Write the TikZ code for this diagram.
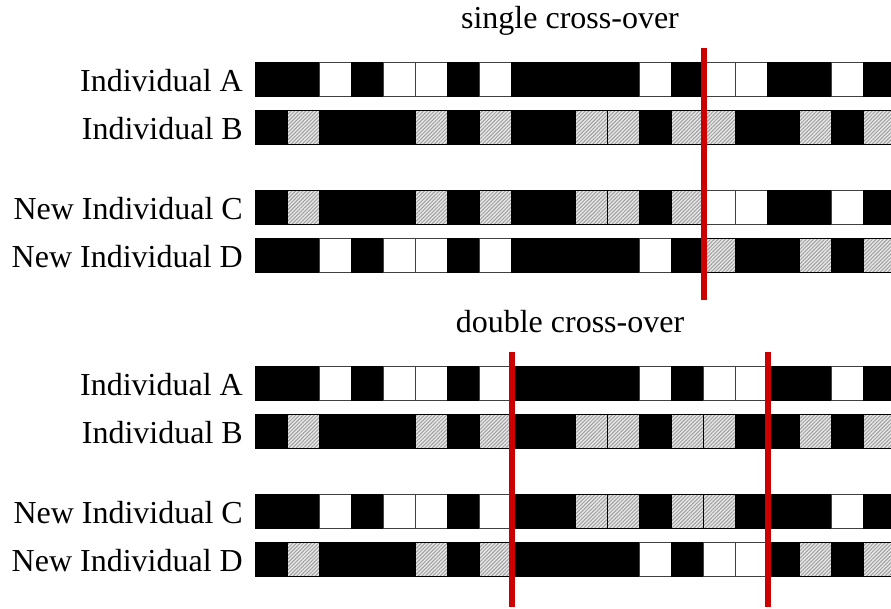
\documentclass[tikz,border=0pt]{standalone}
\usepackage{fontspec}
\setmainfont{Liberation Serif}
\usepackage{xcolor}
\usetikzlibrary{patterns.meta}

\definecolor{crossred}{RGB}{204,0,0}

% one chromosome: #1 top edge, #2 cell types (b = black, w = white, h = hatched)
\newcommand{\chromrow}[2]{%
  \foreach \s [count=\k from 0] in {#2}
    \draw[cell-\s] ({255.5+32*\k},#1) rectangle ++(32,34);
}

\begin{document}
\begin{tikzpicture}[
    x=1pt, y=-1pt,
    cell-b/.style={fill=black, draw=black, line width=0.8pt},
    cell-w/.style={fill=white, draw=black!75, line width=1pt},
    cell-h/.style={draw=black, line width=1pt, preaction={fill=gray!18},
        pattern={Lines[angle=45, distance=2.6pt, line width=1pt]}, pattern color=gray!75},
    rowlabel/.style={anchor=base east, inner sep=0pt, font=\fontsize{32}{38}\selectfont},
    title/.style={anchor=base, inner sep=0pt, font=\fontsize{32}{38}\selectfont},
    crossline/.style={draw=crossred, line width=6pt}
]
\useasboundingbox (0,0) rectangle (891,608);
\clip (0,0) rectangle (891,608);

% single cross-over
\node[title] (single) at (570,28) {single cross-over};
\node[rowlabel] (sA) at (243,91) {Individual A};
\node[rowlabel] (sB) at (243,139) {Individual B};
\node[rowlabel] (sC) at (243,219) {New Individual C};
\node[rowlabel] (sD) at (243,267) {New Individual D};
\chromrow{62}{b,b,w,b,w,w,b,w,b,b,b,b,w,b,w,w,b,b,w,b}
\chromrow{110}{b,h,b,b,b,h,b,h,b,b,h,h,b,h,h,b,b,h,b,h}
\chromrow{190}{b,h,b,b,b,h,b,h,b,b,h,h,b,h,w,w,b,b,w,b}
\chromrow{238}{b,b,w,b,w,w,b,w,b,b,b,b,w,b,h,b,b,h,b,h}
\draw[crossline] (703.5,48) -- (703.5,300);

% double cross-over
\node[title] (double) at (570,332) {double cross-over};
\node[rowlabel] (dA) at (243,395) {Individual A};
\node[rowlabel] (dB) at (243,443) {Individual B};
\node[rowlabel] (dC) at (243,523) {New Individual C};
\node[rowlabel] (dD) at (243,571) {New Individual D};
\chromrow{366}{b,b,w,b,w,w,b,w,b,b,b,b,w,b,w,w,b,b,w,b}
\chromrow{414}{b,h,b,b,b,h,b,h,b,b,h,h,b,h,h,b,b,h,b,h}
\chromrow{494}{b,b,w,b,w,w,b,w,b,b,h,h,b,h,h,b,b,b,w,b}
\chromrow{542}{b,h,b,b,b,h,b,h,b,b,b,b,w,b,w,w,b,h,b,h}
\draw[crossline] (511.5,352) -- (511.5,607);
\draw[crossline] (767.5,352) -- (767.5,607);
\end{tikzpicture}
\end{document}
